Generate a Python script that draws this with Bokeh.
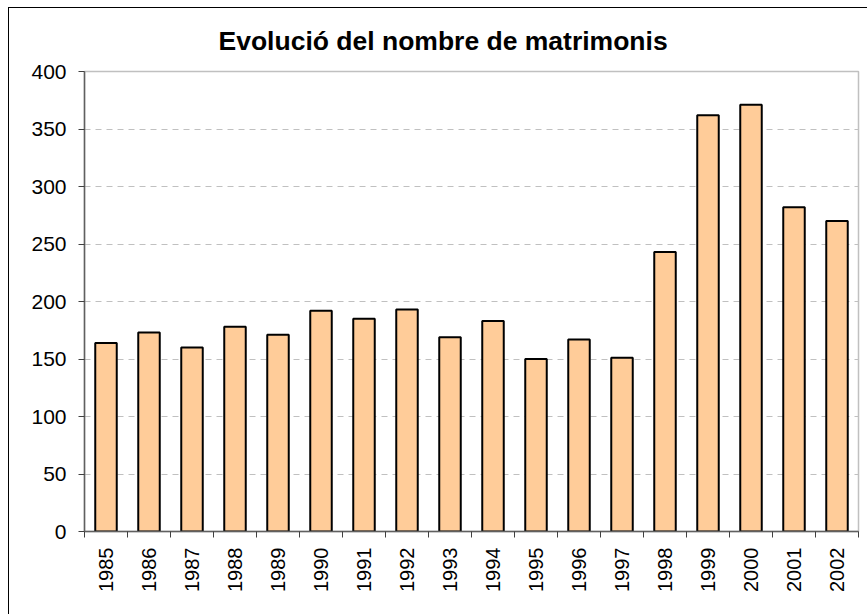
import math
from bokeh.plotting import figure
from bokeh.models import FixedTicker, ColumnDataSource
from bokeh.embed import file_html
from bokeh.resources import INLINE

years = ["1985", "1986", "1987", "1988", "1989", "1990", "1991", "1992", "1993",
         "1994", "1995", "1996", "1997", "1998", "1999", "2000", "2001", "2002"]
matrimonis = [164, 173, 160, 178, 171, 192, 185, 193, 169,
              183, 150, 167, 151, 243, 362, 371, 282, 270]
y_ticks = [0, 50, 100, 150, 200, 250, 300, 350, 400]

centers = [i + 0.5 for i in range(len(years))]
bounds = [float(i) for i in range(len(years) + 1)]

src = ColumnDataSource(dict(x=centers, top=matrimonis, year=years))

FONT = "Liberation Sans"

p = figure(width=859, height=607, output_backend="svg", toolbar_location=None,
           x_range=(0, len(years)), y_range=(0, 400),
           min_border_left=75, min_border_right=10, min_border_top=63, min_border_bottom=84,
           title="Evolució del nombre de matrimonis")
p.styles = {"margin-left": "8px", "margin-top": "7px",
            "border-left": "1px solid black", "border-top": "1px solid black"}

p.title.text_font = FONT
p.title.text_font_size = "26.5px"
p.title.text_font_style = "bold"
p.title.text_color = "black"
p.title.align = "left"
p.title.vertical_align = "top"
p.title.offset = 134
p.title.standoff = 28

p.outline_line_color = "#c0c0c0"
p.outline_line_width = 1.5

p.vbar(x="x", top="top", width=0.5, bottom=0, source=src,
       fill_color="#FFCC99", line_color="black", line_width=2)

# x axis: labels at centres, ticks between categories
xa = p.xaxis[0]
xa.ticker = FixedTicker(ticks=centers, minor_ticks=bounds)
xa.major_label_overrides = {c: y for c, y in zip(centers, years)}
xa.major_label_orientation = math.pi / 2
xa.major_tick_in = 0
xa.major_tick_out = 0
xa.minor_tick_in = 0
xa.minor_tick_out = 6
xa.minor_tick_line_color = "#404040"
xa.axis_line_color = "#606060"
xa.axis_line_width = 1.5
xa.major_label_text_font = FONT
xa.major_label_text_font_size = "20px"
xa.major_label_text_color = "black"
xa.major_label_standoff = 10

ya = p.yaxis[0]
ya.ticker = FixedTicker(ticks=y_ticks)
ya.major_tick_in = 0
ya.major_tick_out = 6
ya.minor_tick_line_color = None
ya.major_tick_line_color = "#404040"
ya.axis_line_color = "#606060"
ya.axis_line_width = 1.5
ya.major_label_text_font = FONT
ya.major_label_text_font_size = "21px"
ya.major_label_text_color = "black"
ya.major_label_standoff = 12

p.xgrid.grid_line_color = None
p.ygrid.grid_line_color = "#c0c0c0"
p.ygrid.grid_line_dash = "6 5"
p.ygrid.grid_line_width = 1

open("out.html", "w").write(file_html(p, INLINE))
